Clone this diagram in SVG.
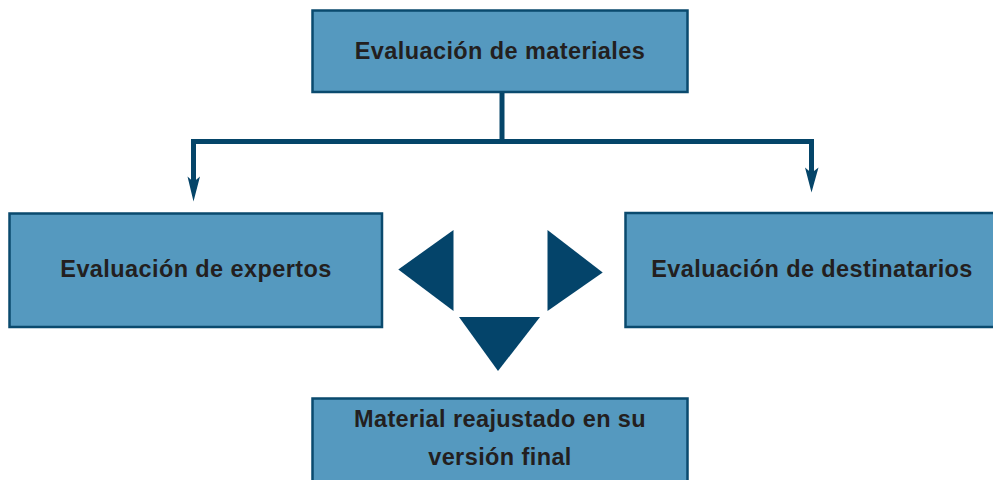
<svg xmlns="http://www.w3.org/2000/svg" width="993" height="480" viewBox="0 0 993 480">
  <style>
    .box { fill: #5599bf; stroke: #0a4a6e; stroke-width: 2.5; }
    .lbl { font-family: "Liberation Sans", Arial, sans-serif; font-weight: bold; font-size: 23.5px; letter-spacing: 0.4px; fill: #231f20; text-anchor: middle; }
    .conn { fill: none; stroke: #054569; stroke-width: 5; stroke-linejoin: miter; stroke-linecap: butt; }
    .head { fill: #054569; }
    .tri { fill: #04446a; }
  </style>
  <rect width="993" height="480" fill="#ffffff"/>
  <g id="node-materiales">
    <rect class="box" x="312.5" y="10.5" width="375" height="81.5"/>
    <text class="lbl" x="500" y="58.5">Evaluación de materiales</text>
  </g>
  <g id="node-expertos">
    <rect class="box" x="9.5" y="213.5" width="372.5" height="113.5"/>
    <text class="lbl" x="196" y="277.3">Evaluación de expertos</text>
  </g>
  <g id="node-destinatarios">
    <rect class="box" x="625.5" y="213" width="372" height="114"/>
    <text class="lbl" x="812" y="277.3">Evaluación de destinatarios</text>
  </g>
  <g id="node-final">
    <rect class="box" x="312.5" y="398.5" width="375" height="90"/>
    <text class="lbl" x="500" y="427.3">Material reajustado en su</text>
    <text class="lbl" x="500" y="465">versión final</text>
  </g>
  <g id="connectors">
    <path class="conn" d="M502,93 V141.5"/>
    <path class="conn" d="M193.5,184 V141.5 H811.5 V175"/>
    <path class="head" d="M187.5,176.5 L193.5,182 L200,176.5 L193.5,201.5 Z"/>
    <path class="head" d="M805,167.5 L811.5,173 L818.5,167.5 L811.5,192.5 Z"/>
  </g>
  <g id="triangles">
    <polygon class="tri" points="398.3,269.5 453.5,230 453.5,311"/>
    <polygon class="tri" points="547.5,230 602.7,272.5 547.5,311"/>
    <polygon class="tri" points="459,317 540,317 498,371"/>
  </g>
</svg>
